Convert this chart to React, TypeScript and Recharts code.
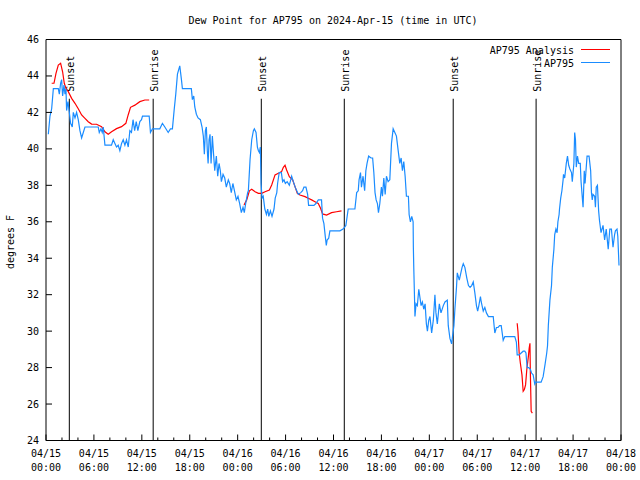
import { LineChart, Line, XAxis, YAxis, ReferenceLine } from "recharts";

// AP795 station readings (hours since 04/15 00:00 UTC, degrees F)
const stationTimes = [
  0.29, 0.5, 0.71, 0.92, 1.54, 1.67, 1.83, 1.96, 2.08, 2.25, 2.38, 2.5, 2.58, 2.75, 2.92, 3.08, 3.29, 3.42, 3.63, 3.83,
  4.04, 4.25, 4.46, 4.67, 4.88, 6.54, 6.67, 6.88, 7.04, 7.17, 7.38, 8.2, 8.42, 8.63, 8.83, 9.04, 9.25, 9.46, 9.67, 9.88,
  10.08, 10.3, 10.5, 10.7, 10.9, 11.1, 11.3, 11.5, 11.75, 11.96, 12.08, 12.92, 13.08, 13.33, 14.25, 14.58, 14.88, 15.3, 15.58, 15.83,
  16.04, 16.25, 16.46, 16.75, 16.96, 17.08, 18.2, 18.33, 18.5, 18.63, 18.83, 19.04, 19.33, 19.54, 19.7, 19.83, 19.96, 20.08, 20.2, 20.3,
  20.42, 20.54, 20.67, 20.83, 21.0, 21.13, 21.33, 21.5, 21.67, 21.83, 21.96, 22.17, 22.38, 22.58, 22.83, 23.0, 23.2, 23.4, 23.6, 23.83,
  24.04, 24.25, 24.46, 24.67, 24.83, 25.0, 25.25, 25.34, 25.55, 25.76, 25.97, 26.09, 26.3, 26.47, 26.6, 26.72, 26.84, 26.93, 27.05, 27.2,
  27.4, 27.6, 27.76, 27.9, 28.1, 28.3, 28.55, 28.7, 28.9, 29.0, 29.2, 29.47, 29.63, 29.8, 29.97, 30.2, 30.47, 30.76, 30.97, 31.2,
  31.4, 31.6, 31.9, 32.13, 32.3, 32.55, 32.76, 32.88, 33.55, 33.8, 34.1, 34.5, 34.63, 34.8, 34.97, 35.1, 35.2, 35.4, 35.55, 36.2,
  36.8, 37.2, 37.4, 37.55, 37.84, 38.68, 38.9, 39.1, 39.2, 39.38, 39.5, 39.7, 39.9, 40.05, 40.2, 40.4, 40.7, 40.9, 41.05, 41.2,
  41.34, 41.5, 41.63, 41.8, 42.0, 42.13, 42.3, 42.47, 42.63, 42.84, 43.05, 43.26, 43.47, 43.68, 43.88, 44.1, 44.3, 44.47, 44.63, 44.8,
  44.97, 45.13, 45.38, 45.47, 45.63, 45.8, 45.97, 46.0, 46.05, 46.13, 46.2, 46.34, 46.5, 46.68, 46.84, 46.97, 47.13, 47.3, 47.47, 47.63,
  47.76, 47.93, 48.08, 48.29, 48.5, 48.7, 48.83, 49.0, 49.25, 49.46, 49.75, 49.96, 50.25, 50.37, 50.58, 50.79, 50.9, 51.08, 51.2, 51.4,
  51.5, 51.75, 51.9, 52.1, 52.25, 52.45, 52.7, 52.9, 53.1, 53.3, 53.5, 53.7, 53.9, 54.05, 54.2, 54.4, 54.5, 54.75, 54.95, 55.15,
  55.4, 56.0, 56.2, 56.4, 56.6, 56.8, 57.0, 57.25, 57.45, 57.65, 58.7, 58.9, 59.0, 59.25, 59.5, 59.75, 59.95, 60.1, 60.25, 60.45,
  60.65, 60.8, 61.0, 61.2, 61.3, 62.0, 62.25, 62.5, 62.7, 62.8, 62.9, 63.1, 63.3, 63.4, 63.6, 63.7, 63.85, 64.0, 64.1, 64.25,
  64.3, 64.45, 64.6, 64.75, 64.8, 64.95, 65.15, 65.3, 65.45, 65.6, 65.8, 65.9, 66.1, 66.2, 66.3, 66.4, 66.55, 66.7, 66.9, 67.0,
  67.25, 67.4, 67.5, 67.75, 68.0, 68.2, 68.3, 68.4, 68.5, 68.7, 68.8, 68.9, 69.05, 69.2, 69.3, 69.5, 69.75, 69.95, 70.15, 70.4,
  70.6, 70.8, 71.0, 71.2, 71.3, 71.5, 71.6, 71.75,
];
const stationValues = [
  40.8, 41.8, 42.2, 43.3, 43.3, 43.0, 43.6, 43.8, 42.9, 43.5, 43.0, 43.3, 42.1, 42.6, 42.0, 41.4, 41.2, 42.0, 41.7, 42.0,
  41.6, 41.0, 40.6, 40.9, 41.2, 41.2, 40.9, 41.1, 40.9, 41.2, 40.2, 40.2, 40.5, 40.3, 40.1, 40.2, 39.9, 40.3, 40.5, 40.2,
  40.5, 40.1, 41.0, 40.9, 41.6, 41.0, 41.5, 41.0, 41.5, 41.6, 41.8, 41.8, 40.9, 41.1, 41.1, 41.4, 41.2, 40.9, 41.1, 41.1,
  42.1, 43.0, 44.1, 44.55, 43.8, 43.3, 43.3, 42.7, 42.9, 42.3, 41.9, 41.7, 41.6, 41.2, 40.7, 39.7, 41.0, 41.2, 39.9, 39.2,
  40.5, 40.8, 39.2, 40.7, 39.6, 38.8, 39.6, 38.5, 39.2, 38.8, 38.2, 38.6, 38.4, 37.9, 38.3, 38.1, 37.6, 38.1, 37.7, 37.2,
  37.4, 37.0, 36.5, 36.8, 36.5, 37.0, 37.6, 37.7, 39.4, 40.5, 41.0, 41.1, 40.9, 40.1, 39.9, 39.8, 40.1, 38.1, 37.3, 37.4,
  36.7, 36.4, 36.7, 36.3, 36.6, 36.3, 36.7, 37.3, 37.6, 38.1, 38.7, 38.7, 38.2, 38.3, 38.1, 38.2, 38.0, 38.5, 38.2, 37.9,
  37.7, 37.5, 37.6, 37.7, 37.9, 37.9, 37.5, 36.9, 36.9, 37.0, 37.2, 37.2, 36.2, 35.9, 35.2, 34.7, 35.0, 35.1, 35.5, 35.5,
  35.5, 35.6, 35.7, 35.8, 36.7, 36.7, 37.6, 37.7, 38.3, 38.7, 37.9, 38.5, 37.7, 38.8, 39.2, 39.6, 39.5, 39.5, 38.7, 37.6,
  37.2, 37.0, 36.5, 37.0, 37.9, 37.4, 38.4, 37.5, 38.5, 38.2, 38.3, 40.3, 41.1, 40.9, 40.7, 39.9, 39.2, 39.5, 38.8, 39.3,
  38.5, 37.4, 37.4, 36.4, 36.0, 36.3, 36.0, 34.6, 33.5, 32.1, 30.8, 31.5, 31.4, 32.3, 31.8, 31.4, 31.6, 31.2, 31.5, 30.4,
  30.0, 30.6, 30.8, 29.9, 30.6, 32.0, 31.0, 30.4, 31.5, 31.0, 31.4, 31.6, 31.7, 30.3, 29.6, 29.3, 29.7, 30.3, 31.2, 32.4,
  33.2, 32.8, 33.1, 33.5, 33.7, 33.5, 32.9, 32.5, 32.4, 32.5, 32.7, 32.1, 31.4, 31.1, 31.4, 31.9, 31.6, 31.1, 31.3, 31.0,
  30.8, 30.8, 29.9, 30.2, 30.2, 30.3, 30.3, 29.5, 29.7, 29.7, 29.7, 29.4, 28.7, 28.7, 28.8, 28.9, 28.9, 28.8, 28.0, 28.0,
  27.9, 27.7, 27.6, 27.1, 27.2, 27.2, 27.5, 28.2, 28.8, 29.2, 30.3, 31.7, 32.5, 33.5, 34.5, 35.3, 35.6, 35.4, 36.0, 36.4,
  36.7, 37.3, 37.7, 38.3, 38.6, 38.4, 39.2, 39.6, 39.1, 38.9, 38.7, 38.2, 39.2, 40.9, 40.5, 39.0, 39.6, 39.2, 39.2, 38.2,
  36.8, 38.8, 38.1, 39.6, 39.6, 38.8, 37.6, 37.2, 37.5, 37.4, 36.8, 37.9, 38.0, 36.6, 36.1, 35.4, 35.8, 35.0, 35.6, 34.5,
  35.6, 35.6, 34.6, 35.3, 35.5, 35.6, 35.2, 33.6,
];

// AP795 Analysis (null = no analysis available)
const analysisTimes = [
  0.71, 1.0, 1.25, 1.54, 1.83, 2.08, 2.29, 2.5, 2.79, 3.21, 3.63, 4.04, 4.46, 4.88, 5.29, 5.71, 6.33, 6.96, 7.38, 7.79,
  8.21, 8.83, 9.46, 10.0, 10.29, 10.58, 11.13, 11.75, 12.38, 12.92, 18.0,
  24.8, 25.13, 25.47, 25.76, 26.18, 26.6, 27.0, 27.43, 27.97, 28.26, 28.68, 29.1, 29.5, 29.72, 29.93, 30.13, 30.47, 30.88, 31.18,
  31.47, 31.8, 32.43, 32.84, 33.26, 33.68, 34.09, 34.38, 34.63, 35.13, 35.76, 36.38, 37.0, 48.0,
  59.0, 59.1, 59.25, 59.4, 59.6, 59.75, 59.9, 60.05, 60.2, 60.4, 60.5, 60.6, 60.65, 60.75, 60.9,
];
const analysisValues = [
  43.6, 43.6, 44.14, 44.6, 44.7, 44.23, 43.6, 43.32, 43.14, 42.77, 42.5, 42.2, 41.86, 41.67, 41.49, 41.36, 41.35, 41.22, 40.94, 40.8,
  40.94, 41.11, 41.22, 41.4, 41.86, 42.28, 42.4, 42.59, 42.68, 42.68, null,
  36.92, 37.2, 37.7, 37.78, 37.65, 37.56, 37.56, 37.65, 37.74, 38.02, 38.57, 38.66, 38.75, 38.99, 39.1, 38.84, 38.47, 38.3, 37.93,
  37.56, 37.47, 37.38, 37.29, 37.2, 37.1, 37.0, 36.74, 36.43, 36.37, 36.5, 36.55, 36.6, null,
  30.43, 29.97, 28.8, 28.24, 27.6, 26.7, 26.8, 27.05, 27.87, 28.6, 29.06, 29.33, 27.7, 25.6, 25.5,
];

const eventTimes = [2.92, 13.42, 26.96, 37.35, 50.99, 61.37];
const eventLabels = ["Sunset", "Sunrise", "Sunset", "Sunrise", "Sunset", "Sunrise"];
const eventTop = 42.75;

const yTicks = [24, 26, 28, 30, 32, 34, 36, 38, 40, 42, 44, 46];
const xTicks = [0, 2, 4, 6, 8, 10, 12, 14, 16, 18, 20, 22, 24, 26, 28, 30, 32, 34, 36, 38, 40, 42, 44, 46, 48, 50, 52, 54, 56, 58, 60, 62, 64, 66, 68, 70, 72];
const xTickDates = ["04/15", "04/15", "04/15", "04/15", "04/16", "04/16", "04/16", "04/16", "04/17", "04/17", "04/17", "04/17", "04/18"];
const xTickTimes = ["00:00", "06:00", "12:00", "18:00", "00:00", "06:00", "12:00", "18:00", "00:00", "06:00", "12:00", "18:00", "00:00"];

const stationRows = stationTimes.map((t, i) => ({ t, v: stationValues[i] }));
const analysisRows = analysisTimes.map((t, i) => ({ t, v: analysisValues[i] }));

const RED = "#ff0000";
const BLUE = "#1a8cff";
const font = { fontFamily: "'DejaVu Sans Mono', monospace", fontSize: 10, fill: "#000" };

const BottomTick = (props: any) => {
  const { x, y, payload } = props;
  const t = payload.value;
  const major = t % 6 === 0;
  const idx = t / 6;
  return (
    <g>
      <line x1={x} y1={y} x2={x} y2={y - (major ? 6 : 3)} stroke="#000" />
      {major && (
        <text x={x} y={y + 16} textAnchor="middle" style={font}>
          <tspan x={x}>{xTickDates[idx]}</tspan>
          <tspan x={x} dy={14.5}>{xTickTimes[idx]}</tspan>
        </text>
      )}
    </g>
  );
};

const TopTick = (props: any) => {
  const { x, y, payload } = props;
  const major = payload.value % 6 === 0;
  return <line x1={x} y1={y} x2={x} y2={y + (major ? 6 : 3)} stroke="#000" />;
};

const LeftTick = (props: any) => {
  const { x, y, payload } = props;
  return (
    <g>
      <line x1={x} y1={y} x2={x + 6} y2={y} stroke="#000" />
      <text x={x - 7} y={y + 3.5} textAnchor="end" style={font}>
        {payload.value}
      </text>
    </g>
  );
};

const RightTick = (props: any) => {
  const { x, y } = props;
  return <line x1={x} y1={y} x2={x - 6} y2={y} stroke="#000" />;
};

const EventLabel = (props: any) => {
  const { viewBox, value } = props;
  const bx = viewBox.x + 5;
  const by = viewBox.y - 7;
  return (
    <text x={bx} y={by} transform={`rotate(-90 ${bx} ${by})`} textAnchor="start" style={font}>
      {value}
    </text>
  );
};

export default function App() {
  return (
    <div style={{ position: "absolute", left: 0, top: 0, width: 640, height: 480, background: "#fff" }}>
      <LineChart width={640} height={480} margin={{ top: 0, right: 0, bottom: 0, left: 0 }}>
        <XAxis
          xAxisId="b"
          dataKey="t"
          type="number"
          domain={[0, 72]}
          ticks={xTicks}
          interval={0}
          height={39.5}
          tickSize={0}
          tickMargin={0}
          tickLine={false}
          axisLine={{ stroke: "#000" }}
          tick={<BottomTick />}
        />
        <XAxis
          xAxisId="t"
          orientation="top"
          dataKey="t"
          type="number"
          domain={[0, 72]}
          ticks={xTicks}
          interval={0}
          height={39.5}
          tickSize={0}
          tickMargin={0}
          tickLine={false}
          axisLine={{ stroke: "#000" }}
          tick={<TopTick />}
        />
        <YAxis
          yAxisId="l"
          type="number"
          domain={[24, 46]}
          ticks={yTicks}
          interval={0}
          width={46}
          tickSize={0}
          tickMargin={0}
          tickLine={false}
          axisLine={{ stroke: "#000" }}
          tick={<LeftTick />}
        />
        <YAxis
          yAxisId="r"
          orientation="right"
          type="number"
          domain={[24, 46]}
          ticks={yTicks}
          interval={0}
          width={19}
          tickSize={0}
          tickMargin={0}
          tickLine={false}
          axisLine={{ stroke: "#000" }}
          tick={<RightTick />}
        />
        {eventTimes.map((t, i) => (
          <ReferenceLine
            key={`ev-${i}`}
            xAxisId="b"
            yAxisId="l"
            segment={[
              { x: t, y: 24 },
              { x: t, y: eventTop },
            ]}
            stroke="#000"
            strokeWidth={1}
            label={<EventLabel value={eventLabels[i]} />}
          />
        ))}
        <Line
          data={analysisRows}
          xAxisId="b"
          yAxisId="l"
          dataKey="v"
          type="linear"
          stroke={RED}
          strokeWidth={1.2}
          dot={false}
          activeDot={false}
          isAnimationActive={false}
        />
        <Line
          data={stationRows}
          xAxisId="b"
          yAxisId="l"
          dataKey="v"
          type="linear"
          stroke={BLUE}
          strokeWidth={1.2}
          dot={false}
          activeDot={false}
          isAnimationActive={false}
        />
        <text x={333} y={23.5} textAnchor="middle" style={font}>
          Dew Point for AP795 on 2024-Apr-15 (time in UTC)
        </text>
        <text x={13.5} y={242} transform="rotate(-90 13.5 242)" textAnchor="middle" style={font}>
          degrees F
        </text>
        <text x={574} y={54} textAnchor="end" style={font}>
          AP795 Analysis
        </text>
        <line x1={581} y1={49.5} x2={610} y2={49.5} stroke={RED} />
        <text x={574} y={66.5} textAnchor="end" style={font}>
          AP795
        </text>
        <line x1={581} y1={62.5} x2={610} y2={62.5} stroke={BLUE} />
      </LineChart>
    </div>
  );
}
